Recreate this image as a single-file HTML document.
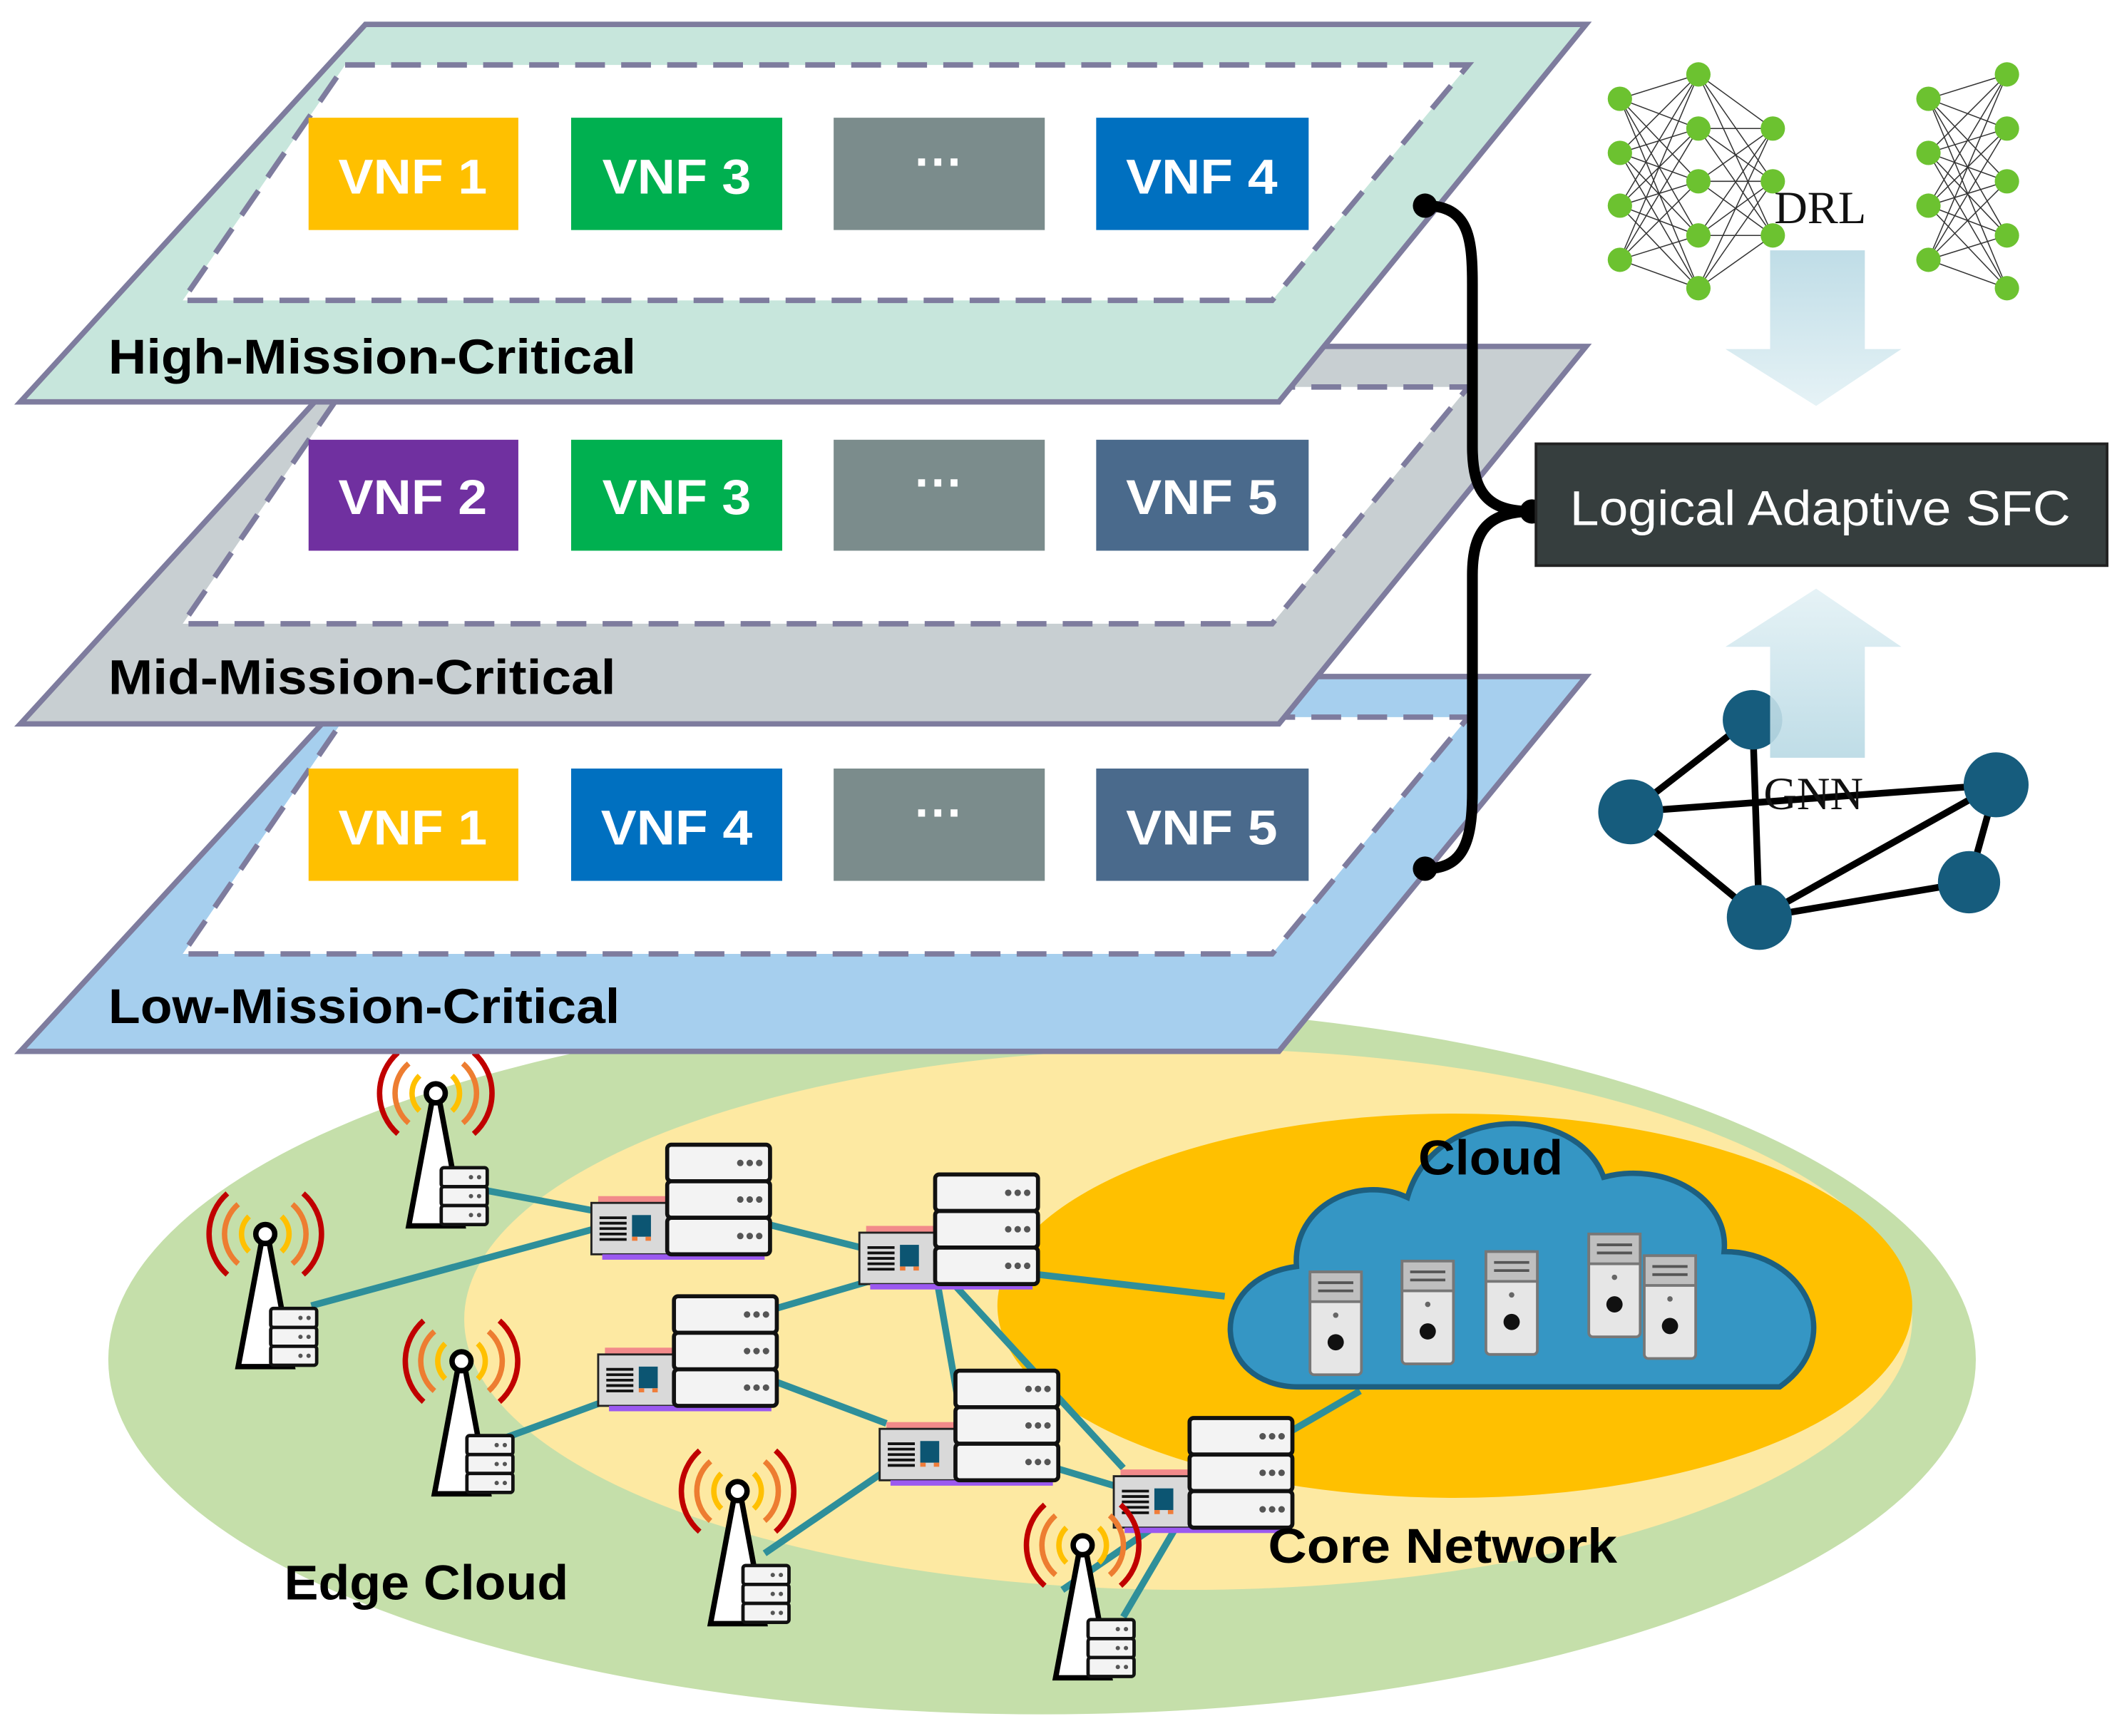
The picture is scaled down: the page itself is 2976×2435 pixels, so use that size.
<!DOCTYPE html>
<html><head><meta charset="utf-8"><style>
html,body{margin:0;padding:0;background:#fff;}
svg{display:block;}
.lbl{font-family:"Liberation Sans",sans-serif;font-weight:bold;}
</style></head><body>
<svg width="2976" height="2435" viewBox="0 0 1568 1283" xmlns="http://www.w3.org/2000/svg">
<defs>
<linearGradient id="ag" x1="0" y1="0" x2="0" y2="1"><stop offset="0" stop-color="#b8d9e4"/><stop offset="1" stop-color="#e3f1f5"/></linearGradient>
<linearGradient id="ag2" x1="0" y1="1" x2="0" y2="0"><stop offset="0" stop-color="#b8d9e4"/><stop offset="1" stop-color="#e3f1f5"/></linearGradient>
<g id="srv">
<rect x="5" y="38" width="60" height="6" fill="#f28a8a"/>
<rect x="0" y="43" width="60" height="38" fill="#d9d9d9" stroke="#222" stroke-width="1.5"/>
<g stroke="#111" stroke-width="2"><line x1="6" y1="54" x2="26" y2="54"/><line x1="6" y1="58" x2="26" y2="58"/><line x1="6" y1="62" x2="26" y2="62"/><line x1="6" y1="66" x2="26" y2="66"/><line x1="6" y1="70" x2="26" y2="70"/></g>
<rect x="30" y="52" width="14" height="16" fill="#0c5572"/>
<rect x="30" y="68" width="4" height="3" fill="#f07d3a"/><rect x="40" y="68" width="4" height="3" fill="#f07d3a"/>
<rect x="8" y="81" width="120" height="4" fill="#9b59f0"/>
<g fill="#f3f3f3" stroke="#111" stroke-width="3">
<rect x="56" y="0" width="76" height="27" rx="3"/><rect x="56" y="27" width="76" height="27" rx="3"/><rect x="56" y="54" width="76" height="27" rx="3"/></g>
<g fill="#555"><circle cx="110" cy="13.5" r="2.4"/><circle cx="117" cy="13.5" r="2.4"/><circle cx="124" cy="13.5" r="2.4"/>
<circle cx="110" cy="40.5" r="2.4"/><circle cx="117" cy="40.5" r="2.4"/><circle cx="124" cy="40.5" r="2.4"/>
<circle cx="110" cy="67.5" r="2.4"/><circle cx="117" cy="67.5" r="2.4"/><circle cx="124" cy="67.5" r="2.4"/></g>
</g>
<g id="tw">
<g fill="none" stroke-width="4">
<path d="M-28,-30 A40,40 0 0 0 -28,30" stroke="#c00000"/><path d="M28,-30 A40,40 0 0 1 28,30" stroke="#c00000"/>
<path d="M-20,-22 A29,29 0 0 0 -20,22" stroke="#ed7d31"/><path d="M20,-22 A29,29 0 0 1 20,22" stroke="#ed7d31"/>
<path d="M-12,-13 A18,18 0 0 0 -12,13" stroke="#ffc000"/><path d="M12,-13 A18,18 0 0 1 12,13" stroke="#ffc000"/>
</g>
<circle cx="0" cy="0" r="7" fill="#fff" stroke="#000" stroke-width="4"/>
<path d="M-3,7 L-20,98 L20,98 L3,7 Z" fill="#fff" stroke="#000" stroke-width="4"/>
<g fill="#f3f3f3" stroke="#111" stroke-width="2.5">
<rect x="4" y="55" width="34" height="14" rx="2"/><rect x="4" y="69" width="34" height="14" rx="2"/><rect x="4" y="83" width="34" height="14" rx="2"/></g>
<g fill="#555"><circle cx="26" cy="62" r="1.6"/><circle cx="32" cy="62" r="1.6"/><circle cx="26" cy="76" r="1.6"/><circle cx="32" cy="76" r="1.6"/><circle cx="26" cy="90" r="1.6"/><circle cx="32" cy="90" r="1.6"/></g>
</g>
<g id="pc">
<rect x="0" y="0" width="38" height="76" rx="3" fill="#e6e6e6" stroke="#777" stroke-width="2"/>
<rect x="0" y="0" width="38" height="22" fill="#bfbfbf" stroke="#777" stroke-width="2"/>
<line x1="6" y1="8" x2="32" y2="8" stroke="#555" stroke-width="2"/><line x1="6" y1="14" x2="32" y2="14" stroke="#555" stroke-width="2"/>
<circle cx="19" cy="32" r="2" fill="#666"/><circle cx="19" cy="52" r="6" fill="#111"/>
</g>
</defs>

<ellipse cx="770" cy="1005" rx="690" ry="262" fill="#c5dfaa"/>
<ellipse cx="878" cy="975" rx="535" ry="200" fill="#fde9a2"/>
<ellipse cx="1075" cy="965" rx="338" ry="142" fill="#ffc000"/>

<g stroke="#2e8f9a" stroke-width="5" fill="none">
<line x1="360" y1="880" x2="440" y2="895"/>
<line x1="230" y1="965" x2="440" y2="908"/>
<line x1="568" y1="905" x2="640" y2="923"/>
<line x1="690" y1="933" x2="570" y2="968"/>
<line x1="690" y1="933" x2="712" y2="1058"/>
<line x1="690" y1="933" x2="830" y2="1085"/>
<line x1="690" y1="933" x2="905" y2="958"/>
<line x1="375" y1="1062" x2="495" y2="1018"/>
<line x1="570" y1="1020" x2="655" y2="1052"/>
<line x1="565" y1="1148" x2="660" y2="1083"/>
<line x1="750" y1="1076" x2="830" y2="1100"/>
<line x1="880" y1="1110" x2="830" y2="1195"/>
<line x1="880" y1="1110" x2="785" y2="1175"/>
<line x1="950" y1="1060" x2="1005" y2="1028"/>
</g>

<path d="M960,1025 C895,1025 890,945 958,936 C955,890 1005,868 1040,885 C1060,815 1165,815 1185,870 C1230,858 1278,885 1274,925 C1335,925 1365,990 1315,1025 Z" fill="#3596c4" stroke="#1d5f80" stroke-width="4"/>
<use href="#pc" x="968" y="940"/><use href="#pc" x="1036" y="932"/><use href="#pc" x="1098" y="925"/><use href="#pc" x="1174" y="912"/><use href="#pc" x="1215" y="928"/>
<text x="1048" y="868" class="lbl" font-size="36" textLength="107" lengthAdjust="spacingAndGlyphs" fill="#000">Cloud</text>

<use href="#srv" x="437" y="846"/>
<use href="#srv" x="635" y="868"/>
<use href="#srv" x="442" y="958"/>
<use href="#srv" x="650" y="1013"/>
<use href="#srv" x="823" y="1048"/>

<use href="#tw" x="322" y="808"/>
<use href="#tw" x="196" y="912"/>
<use href="#tw" x="341" y="1006"/>
<use href="#tw" x="545" y="1102"/>
<use href="#tw" x="800" y="1142"/>

<text x="937" y="1155" class="lbl" font-size="36" textLength="258" lengthAdjust="spacingAndGlyphs" fill="#000">Core Network</text>
<text x="210" y="1182" class="lbl" font-size="36" textLength="210" lengthAdjust="spacingAndGlyphs" fill="#000">Edge Cloud</text>

<polygon points="15,777 270,500 1172,500 945,777" fill="#a6cfee" stroke="#7e7c9e" stroke-width="4"/>
<polygon points="255,530 1085,530 940,705 135,705" fill="#fff" stroke="#7e7c9e" stroke-width="4" stroke-dasharray="22,12"/>
<polygon points="15,535 270,256 1172,256 945,535" fill="#c8cfd2" stroke="#7e7c9e" stroke-width="4"/>
<polygon points="255,286 1085,286 940,461 135,461" fill="#fff" stroke="#7e7c9e" stroke-width="4" stroke-dasharray="22,12"/>
<polygon points="15,297 270,18 1172,18 945,297" fill="#c7e6dc" stroke="#7e7c9e" stroke-width="4"/>
<polygon points="255,48 1085,48 940,222 135,222" fill="#fff" stroke="#7e7c9e" stroke-width="4" stroke-dasharray="22,12"/>

<g font-family="Liberation Sans, sans-serif" font-size="36" font-weight="bold" fill="#fff" text-anchor="middle">
<rect x="228" y="87" width="155" height="83" fill="#ffc000"/><text x="305" y="143" textLength="110" lengthAdjust="spacingAndGlyphs">VNF 1</text>
<rect x="422" y="87" width="156" height="83" fill="#00b050"/><text x="500" y="143" textLength="110" lengthAdjust="spacingAndGlyphs">VNF 3</text>
<rect x="616" y="87" width="156" height="83" fill="#7b8c8c"/><text x="694" y="132">···</text>
<rect x="810" y="87" width="157" height="83" fill="#0070c0"/><text x="888" y="143" textLength="112" lengthAdjust="spacingAndGlyphs">VNF 4</text>

<rect x="228" y="325" width="155" height="82" fill="#7030a0"/><text x="305" y="380" textLength="110" lengthAdjust="spacingAndGlyphs">VNF 2</text>
<rect x="422" y="325" width="156" height="82" fill="#00b050"/><text x="500" y="380" textLength="110" lengthAdjust="spacingAndGlyphs">VNF 3</text>
<rect x="616" y="325" width="156" height="82" fill="#7b8c8c"/><text x="694" y="369">···</text>
<rect x="810" y="325" width="157" height="82" fill="#4a6a8c"/><text x="888" y="380" textLength="112" lengthAdjust="spacingAndGlyphs">VNF 5</text>

<rect x="228" y="568" width="155" height="83" fill="#ffc000"/><text x="305" y="624" textLength="110" lengthAdjust="spacingAndGlyphs">VNF 1</text>
<rect x="422" y="568" width="156" height="83" fill="#0070c0"/><text x="500" y="624" textLength="112" lengthAdjust="spacingAndGlyphs">VNF 4</text>
<rect x="616" y="568" width="156" height="83" fill="#7b8c8c"/><text x="694" y="613">···</text>
<rect x="810" y="568" width="157" height="83" fill="#4a6a8c"/><text x="888" y="624" textLength="112" lengthAdjust="spacingAndGlyphs">VNF 5</text>
</g>

<g class="lbl" font-size="36" fill="#000">
<text x="80" y="276" textLength="390" lengthAdjust="spacingAndGlyphs">High-Mission-Critical</text>
<text x="80" y="513" textLength="375" lengthAdjust="spacingAndGlyphs">Mid-Mission-Critical</text>
<text x="80" y="756" textLength="378" lengthAdjust="spacingAndGlyphs">Low-Mission-Critical</text>
</g>

<path d="M1053,152 C1085,152 1088,175 1088,210 L1088,330 C1088,365 1100,378 1132,378 C1100,378 1088,392 1088,425 L1088,585 C1088,625 1080,642 1053,642" fill="none" stroke="#000" stroke-width="8"/>
<circle cx="1053" cy="152" r="9" fill="#000"/><circle cx="1053" cy="642" r="9" fill="#000"/><circle cx="1132" cy="378" r="9" fill="#000"/>

<rect x="1135" y="328" width="422" height="90" fill="#363e3e" stroke="#222" stroke-width="2"/>
<text x="1160" y="388" font-family="Liberation Sans, sans-serif" font-size="36" fill="#fff" textLength="370" lengthAdjust="spacingAndGlyphs">Logical Adaptive SFC</text>

<g stroke="#333" stroke-width="0.8">
<g id="net">
<path d="M1197,73L1255,55M1197,73L1255,95M1197,73L1255,134M1197,73L1255,174M1197,73L1255,213M1197,113L1255,55M1197,113L1255,95M1197,113L1255,134M1197,113L1255,174M1197,113L1255,213M1197,152L1255,55M1197,152L1255,95M1197,152L1255,134M1197,152L1255,174M1197,152L1255,213M1197,192L1255,55M1197,192L1255,95M1197,192L1255,134M1197,192L1255,174M1197,192L1255,213"/>
</g>
<path d="M1255,55L1310,95M1255,95L1310,95M1255,134L1310,95M1255,174L1310,95M1255,213L1310,95M1255,55L1310,134M1255,95L1310,134M1255,134L1310,134M1255,174L1310,134M1255,213L1310,134M1255,55L1310,174M1255,95L1310,174M1255,134L1310,174M1255,174L1310,174M1255,213L1310,174"/>
<use href="#net" x="228" y="0"/>
</g>
<g fill="#6cc230">
<circle cx="1197" cy="73" r="9"/><circle cx="1197" cy="113" r="9"/><circle cx="1197" cy="152" r="9"/><circle cx="1197" cy="192" r="9"/>
<circle cx="1255" cy="55" r="9"/><circle cx="1255" cy="95" r="9"/><circle cx="1255" cy="134" r="9"/><circle cx="1255" cy="174" r="9"/><circle cx="1255" cy="213" r="9"/>
<circle cx="1310" cy="95" r="9"/><circle cx="1310" cy="134" r="9"/><circle cx="1310" cy="174" r="9"/>
<circle cx="1425" cy="73" r="9"/><circle cx="1425" cy="113" r="9"/><circle cx="1425" cy="152" r="9"/><circle cx="1425" cy="192" r="9"/>
<circle cx="1483" cy="55" r="9"/><circle cx="1483" cy="95" r="9"/><circle cx="1483" cy="134" r="9"/><circle cx="1483" cy="174" r="9"/><circle cx="1483" cy="213" r="9"/>
</g>
<polygon points="1308,185 1378,185 1378,258 1405,258 1342,300 1275,258 1308,258" fill="url(#ag)" opacity="0.9"/>
<text x="1345" y="165" font-family="Liberation Serif, serif" font-size="34" fill="#111" text-anchor="middle">DRL</text>

<g stroke="#000" stroke-width="5">
<line x1="1295" y1="530" x2="1205" y2="600"/><line x1="1205" y1="600" x2="1475" y2="580"/>
<line x1="1205" y1="600" x2="1300" y2="678"/><line x1="1300" y1="678" x2="1475" y2="580"/>
<line x1="1300" y1="678" x2="1455" y2="652"/><line x1="1455" y1="652" x2="1475" y2="580"/>
<line x1="1295" y1="530" x2="1300" y2="678"/>
</g>
<g fill="#165c7d"><circle cx="1295" cy="532" r="22"/><circle cx="1205" cy="600" r="24"/><circle cx="1475" cy="580" r="24"/><circle cx="1455" cy="652" r="23"/><circle cx="1300" cy="678" r="24"/></g>
<polygon points="1308,560 1378,560 1378,478 1405,478 1342,435 1275,478 1308,478" fill="url(#ag2)" opacity="0.9"/>
<text x="1340" y="598" font-family="Liberation Serif, serif" font-size="34" fill="#111" text-anchor="middle">GNN</text>
</svg>
</body></html>
